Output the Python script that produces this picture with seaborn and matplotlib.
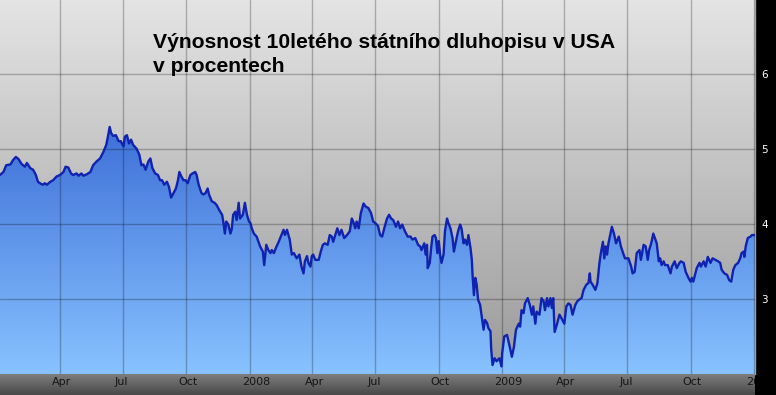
import numpy as np
import pandas as pd
import matplotlib
matplotlib.use("Agg")
import matplotlib.pyplot as plt
import seaborn as sns
from matplotlib.colors import LinearSegmentedColormap
from matplotlib.transforms import ScaledTranslation, Bbox, TransformedBbox

# ---------------- data ----------------
START = "2007-01-01"
# days since START
day_offset = [
    3, 8, 12, 18, 22, 26, 30, 34, 39, 42, 47, 51, 55, 58, 61, 65, 68, 71, 76, 80,
    85, 90, 95, 98, 102, 106, 109, 114, 117, 121, 124, 129, 134, 138, 143, 148, 153, 157, 159, 162,
    164, 167, 171, 175, 178, 182,
    184, 187, 190, 193, 196, 201, 205, 208, 211, 214, 218, 221, 224, 228, 232, 235, 238, 241, 245, 248,
    251, 254, 258, 261, 263, 266, 269, 272, 275, 279, 282, 286, 288, 291, 295, 298, 301, 304, 306, 310,
    314, 317, 321, 325, 327, 329, 331, 334, 337, 339, 341, 344, 346, 349, 351, 355, 358, 361, 364,
    366, 368, 371, 375, 380, 384, 386, 389, 392, 395, 397, 400, 403, 407, 410, 414, 416, 419, 423, 426,
    429, 433, 437, 440, 443, 445, 448, 450, 453, 455, 457, 460, 465, 468, 471, 474, 478, 481, 484, 486,
    489, 492, 495, 498, 502, 506, 510, 513, 515, 518, 520, 523, 526, 530, 533, 537, 541, 544,
    547, 551, 554, 557, 560, 564, 567, 570, 573, 577, 580, 583, 586, 590, 594, 598, 601, 605, 609, 612,
    614, 618, 620, 622, 623, 626, 628, 630, 633, 635, 637, 639, 641, 643, 646, 648, 651, 653, 656, 659,
    661, 664, 667, 670, 672, 675, 677, 680, 682, 685, 687, 688, 690, 692, 694, 696, 699, 702, 704, 706,
    709, 711, 714, 715, 717, 720, 723, 727, 730,
    731, 734, 738, 742, 745, 748, 751, 755, 757, 759, 762, 764, 768, 771, 774, 776, 779, 781, 785, 788,
    791, 793, 796, 798, 801, 803, 805, 807, 810, 814, 817, 821, 824, 827, 830, 833, 837, 840, 844, 846,
    849, 853, 856, 858, 859, 862, 866, 869, 872, 874, 877, 879, 881, 883, 885, 888, 890, 893, 896, 900,
    903, 907,
    909, 914, 918, 920, 923, 926, 930, 932, 936, 939, 942, 944, 947, 950, 953, 955, 958, 960, 962, 965,
    967, 971, 975, 977, 981, 984, 988, 990, 994, 997, 1001, 1004, 1006, 1008, 1011, 1013, 1017, 1019, 1023, 1026,
    1029, 1033, 1036, 1040, 1044, 1047, 1049, 1053, 1057, 1060, 1063, 1066, 1069, 1073, 1076, 1078, 1081, 1082, 1084, 1087,
    1091, 1093, 1095, 1099,
]
# 10-year US Treasury yield, percent
yield_pct = [
    4.65, 4.69, 4.78, 4.79, 4.85, 4.89, 4.86, 4.80, 4.76, 4.81, 4.74, 4.72, 4.65, 4.56, 4.54, 4.52, 4.54, 4.52, 4.56, 4.58,
    4.63, 4.65, 4.69, 4.76, 4.75, 4.67, 4.65, 4.67, 4.64, 4.67, 4.64, 4.66, 4.69, 4.78, 4.83, 4.87, 4.96, 5.05, 5.14, 5.29,
    5.21, 5.17, 5.18, 5.10, 5.10, 5.03,
    5.16, 5.18, 5.07, 5.12, 5.05, 5.00, 4.92, 4.78, 4.79, 4.72, 4.83, 4.87, 4.74, 4.67, 4.65, 4.58, 4.58, 4.52, 4.56, 4.49,
    4.35, 4.40, 4.47, 4.58, 4.69, 4.63, 4.58, 4.58, 4.54, 4.65, 4.67, 4.69, 4.65, 4.52, 4.41, 4.39, 4.41, 4.47, 4.39, 4.30,
    4.28, 4.25, 4.18, 4.12, 4.01, 3.87, 4.03, 3.99, 3.87, 3.93, 4.12, 4.16, 4.05, 4.28, 4.07, 4.12, 4.28, 4.12, 4.03,
    4.01, 3.94, 3.87, 3.83, 3.70, 3.63, 3.45, 3.72, 3.65, 3.61, 3.65, 3.61, 3.68, 3.76, 3.83, 3.92, 3.85, 3.92, 3.79, 3.59,
    3.61, 3.54, 3.59, 3.43, 3.34, 3.50, 3.57, 3.48, 3.43, 3.57, 3.59, 3.52, 3.52, 3.63, 3.72, 3.74, 3.72, 3.85, 3.83, 3.76,
    3.85, 3.94, 3.85, 3.92, 3.81, 3.85, 3.90, 4.07, 4.03, 3.94, 4.03, 3.94, 4.14, 4.27, 4.23, 4.21, 4.14, 4.03,
    4.01, 3.97, 3.85, 3.83, 3.94, 4.07, 4.12, 4.07, 4.05, 3.96, 4.03, 3.94, 3.99, 3.90, 3.83, 3.83, 3.79, 3.81, 3.72, 3.70,
    3.65, 3.74, 3.59, 3.72, 3.41, 3.48, 3.68, 3.83, 3.85, 3.81, 3.61, 3.77, 3.59, 3.48, 3.59, 3.90, 4.07, 4.01, 3.94, 3.81,
    3.63, 3.77, 3.90, 3.99, 3.94, 3.74, 3.79, 3.72, 3.85, 3.68, 3.52, 3.32, 3.05, 3.28, 3.19, 2.99, 2.92, 2.72, 2.59, 2.72,
    2.68, 2.61, 2.57, 2.34, 2.12, 2.21, 2.17, 2.21, 2.10,
    2.28, 2.50, 2.52, 2.36, 2.23, 2.36, 2.59, 2.67, 2.63, 2.85, 2.81, 2.94, 3.01, 2.92, 2.79, 2.90, 2.67, 2.83, 2.79, 3.01,
    2.97, 2.85, 3.01, 2.90, 3.01, 2.88, 3.01, 2.56, 2.65, 2.79, 2.74, 2.67, 2.90, 2.94, 2.92, 2.79, 2.92, 2.97, 3.00, 3.01,
    3.12, 3.19, 3.21, 3.34, 3.23, 3.19, 3.12, 3.21, 3.48, 3.61, 3.76, 3.54, 3.70, 3.59, 3.74, 3.87, 3.96, 3.87, 3.74, 3.83,
    3.70, 3.59,
    3.54, 3.54, 3.43, 3.34, 3.36, 3.61, 3.65, 3.52, 3.72, 3.70, 3.52, 3.65, 3.74, 3.87, 3.79, 3.74, 3.50, 3.54, 3.45, 3.50,
    3.45, 3.45, 3.34, 3.43, 3.50, 3.41, 3.48, 3.50, 3.48, 3.36, 3.28, 3.23, 3.28, 3.23, 3.34, 3.41, 3.48, 3.43, 3.50, 3.43,
    3.56, 3.48, 3.54, 3.52, 3.50, 3.48, 3.39, 3.34, 3.32, 3.25, 3.23, 3.39, 3.45, 3.48, 3.54, 3.61, 3.63, 3.56, 3.70, 3.81,
    3.83, 3.85, 3.85, 3.85,
]
tick_dates = ["2007-04-01", "2007-07-01", "2007-10-01", "2008-01-01", "2008-04-01", "2008-07-01",
              "2008-10-01", "2009-01-01", "2009-04-01", "2009-07-01", "2009-10-01", "2010-01-01"]
tick_labels = ["Apr", "Jul", "Oct", "2008", "Apr", "Jul", "Oct", "2009", "Apr", "Jul", "Oct", "2010"]
y_ticks = [3, 4, 5, 6]
y_tick_labels = ["3", "4", "5", "6"]
title_lines = ["Výnosnost 10letého státního dluhopisu v USA", "v procentech"]

# ---------------- figure ----------------
sns.set_theme(style="white")
plt.rcParams['font.family'] = ['DejaVu Sans']

df = pd.DataFrame({
    "date": pd.Timestamp(START) + pd.to_timedelta(day_offset, unit="D"),
    "yield": yield_pct,
})

W, H = 776, 395
fig = plt.figure(figsize=(W / 100, H / 100), dpi=100, facecolor="black")
ax = fig.add_axes([0, 21 / H, 755 / W, 374 / H])
band = fig.add_axes([0, 0, 755 / W, 21 / H], zorder=-1)

Y0, Y1 = 2.0, 6.98
grad = np.linspace(0, 1, 256).reshape(-1, 1)

# gray background gradient of the plot area
bg_cmap = LinearSegmentedColormap.from_list("bg", ["#9a9a9a", "#e4e4e4"])
ax.imshow(grad, cmap=bg_cmap, aspect="auto", extent=[0, 1, 0, 1],
          transform=ax.transAxes, origin="lower", zorder=0)

# area under the curve filled with a blue gradient
poly = ax.fill_between(df["date"], df["yield"], Y0 - 1, facecolor="none",
                       edgecolor="none", zorder=1)
blue_cmap = LinearSegmentedColormap.from_list("blue", ["#88c2ff", "#1846c4"])
im = ax.imshow(grad, cmap=blue_cmap, aspect="auto", extent=[0, 1, 0, 1],
               transform=ax.transAxes, origin="lower", zorder=1.5)
im.set_clip_path(poly.get_paths()[0], transform=ax.transData)

sns.lineplot(data=df, x="date", y="yield", ax=ax, color="#1022b0",
             linewidth=1.7, estimator=None, zorder=3)

ax.set_xlim(pd.Timestamp("2007-01-04"), pd.Timestamp("2010-01-02 11:00"))
ax.set_ylim(Y0, Y1)
ax.set_xlabel("")
ax.set_ylabel("")

ax.set_xticks(pd.to_datetime(tick_dates))
ax.set_xticklabels(tick_labels, ha="left")
ax.set_yticks(y_ticks)
ax.set_yticklabels(y_tick_labels)
ax.yaxis.tick_right()

ax.set_axisbelow(False)
ax.grid(True, color="black", alpha=0.25, linewidth=1.0)
ax.tick_params(axis="x", length=0, pad=2.5, labelsize=8, labelcolor="#151515")
ax.tick_params(axis="y", length=0, pad=4.3, labelsize=7.5, labelcolor="white",
               left=False, right=False, labelleft=False, labelright=True)

offset = ScaledTranslation(-8 / 100, 0, fig.dpi_scale_trans)
clip = TransformedBbox(Bbox([[0, 0], [755 / W, 1]]), fig.transFigure)
for lbl in ax.get_xticklabels():
    lbl.set_transform(lbl.get_transform() + offset)
    lbl.set_clip_box(clip)
    lbl.set_clip_on(True)

for side in ["left", "top", "bottom"]:
    ax.spines[side].set_visible(False)
ax.spines["right"].set_color("#a0a0a0")
ax.spines["right"].set_linewidth(1.0)

# dark gradient band beneath the plot holding the date labels
band_cmap = LinearSegmentedColormap.from_list("band", ["#484848", "#7e7e7e"])
band.imshow(grad, cmap=band_cmap, aspect="auto", extent=[0, 1, 0, 1], origin="lower")
band.set_xlim(0, 1)
band.set_ylim(0, 1)
band.axis("off")

# title
fig.text(153 / W, 1 - 47.7 / H, title_lines[0], fontsize=15.2, fontweight="bold",
         family=["Liberation Sans", "DejaVu Sans"], color="black", ha="left", va="baseline")
fig.text(153 / W, 1 - 71.7 / H, title_lines[1], fontsize=15.2, fontweight="bold",
         family=["Liberation Sans", "DejaVu Sans"], color="black", ha="left", va="baseline")

fig.savefig("out.png", dpi=100, facecolor="black")
